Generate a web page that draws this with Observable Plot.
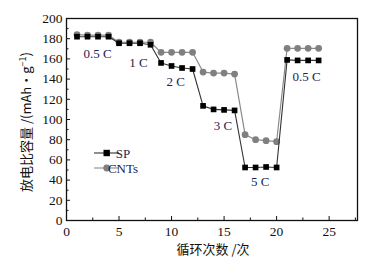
<!DOCTYPE html>
<html><head><meta charset="utf-8">
<script src="https://cdn.jsdelivr.net/npm/d3@7"></script>
<script src="https://cdn.jsdelivr.net/npm/@observablehq/plot@0.6"></script>
<style>body{margin:0;background:#fff}</style>
</head><body><div id="chart"></div>
<script>
const cycles = [1,2,3,4,5,6,7,8,9,10,11,12,13,14,15,16,17,18,19,20,21,22,23,24];
const spValues = [182,182,182,182,175.5,175.5,175.5,174,156,153,151,150,113.5,110,109.5,109,52.5,52.5,53,52.5,159,158.5,158.5,158.5];
const cntValues = [184,183.5,183.5,183.5,176.5,176.5,176.5,176.5,166.5,166.5,166.5,166.5,147,146,146,145,85,80,79,78,170.5,170.5,170.5,170.5];
const rateLabels = ["0.5 C","1 C","2 C","3 C","5 C","0.5 C"];
const rateLabelX = [2.95,6.85,10.4,14.9,18.45,22.85];
const rateLabelY = [165.5,156,137.5,93.8,37.8,142.5];
const xMajor = [0,5,10,15,20,25];
const xMinor = [2.5,7.5,12.5,17.5,22.5,27.5];
const yMajor = [0,20,40,60,80,100,120,140,160,180,200];
const yMinor = [10,30,50,70,90,110,130,150,170,190];
const seriesNames = ["SP","CNTs"];

const sp = cycles.map((c,i)=>({x:c,y:spValues[i]}));
const cnt = cycles.map((c,i)=>({x:c,y:cntValues[i]}));
const labels = rateLabels.map((t,i)=>({t,x:rateLabelX[i],y:rateLabelY[i]}));

const font = "'Liberation Serif', 'Times New Roman', serif";
const plot = Plot.plot({
  width: 369, height: 261,
  marginLeft: 66, marginRight: 12, marginTop: 18, marginBottom: 41,
  style: {fontFamily: font, fontSize: "13.5px", color: "#111", background: "#fff"},
  x: {domain: [0, 27.7]},
  y: {domain: [0, 200]},
  marks: [
    Plot.frame({stroke: "#111", strokeWidth: 1.3}),
    Plot.axisX({ticks: xMajor, tickSize: -4, tickPadding: 10, label: null, fontSize: 13.5}),
    Plot.axisX({ticks: xMinor.filter(v=>v<27.7), tickSize: -2.5, tickFormat: () => "", label: null}),
    Plot.axisY({ticks: yMajor, tickSize: -4, tickPadding: 8, label: null, fontSize: 13.5}),
    Plot.axisY({ticks: yMinor, tickSize: -2.5, tickFormat: () => "", label: null}),
    Plot.line(cnt, {x:"x", y:"y", stroke:"#8a8a8a", strokeWidth:1.2}),
    Plot.dot(cnt, {x:"x", y:"y", r:3.4, fill:"#808080", stroke:"none"}),
    Plot.line(sp, {x:"x", y:"y", stroke:"#333", strokeWidth:1.1}),
    Plot.dot(sp, {x:"x", y:"y", symbol:"square", r:3.2, fill:"#000", stroke:"none"}),
    Plot.text(labels, {x:"x", y:"y", text:"t", fontSize:13, fill:"#1b2550", fontFamily: font})
  ]
});

const svg = d3.select(plot);
// legend
const lg = svg.append("g").attr("font-family", font).attr("font-size", 13);
const legendItems = [
  {name: seriesNames[0], stroke:"#333", fill:"#000", shape:"square", y:153},
  {name: seriesNames[1], stroke:"#8a8a8a", fill:"#808080", shape:"circle", y:168}
];
legendItems.forEach(it => {
  lg.append("line").attr("x1",94).attr("x2",119).attr("y1",it.y).attr("y2",it.y).attr("stroke",it.stroke).attr("stroke-width",1.1);
  if (it.shape==="square") lg.append("rect").attr("x",103.5).attr("y",it.y-3.2).attr("width",6.4).attr("height",6.4).attr("fill",it.fill);
  else lg.append("circle").attr("cx",106.7).attr("cy",it.y).attr("r",3.4).attr("fill",it.fill);
  lg.append("text").attr("x",123).attr("y",it.y).attr("dy","0.35em").attr("fill","#1b2550").text(it.name);
});
// axis titles
svg.append("text").attr("x",213).attr("y",254).attr("text-anchor","middle")
  .attr("font-family","'Noto Sans CJK SC', sans-serif").attr("font-size",13).attr("fill","#111")
  .text("循环次数 /次");
const yt = svg.append("text").attr("transform","translate(26,122) rotate(-90)").attr("text-anchor","middle")
  .attr("dy","0.35em")
  .attr("font-family","'Noto Sans CJK SC', sans-serif").attr("font-size",13).attr("fill","#111");
yt.append("tspan").text("放电比容量 /(mAh·g");
yt.append("tspan").attr("dy","-5").attr("font-size",9).text("−1");
yt.append("tspan").attr("dy","5").text(")");

document.getElementById("chart").appendChild(plot);
</script>
</body></html>
